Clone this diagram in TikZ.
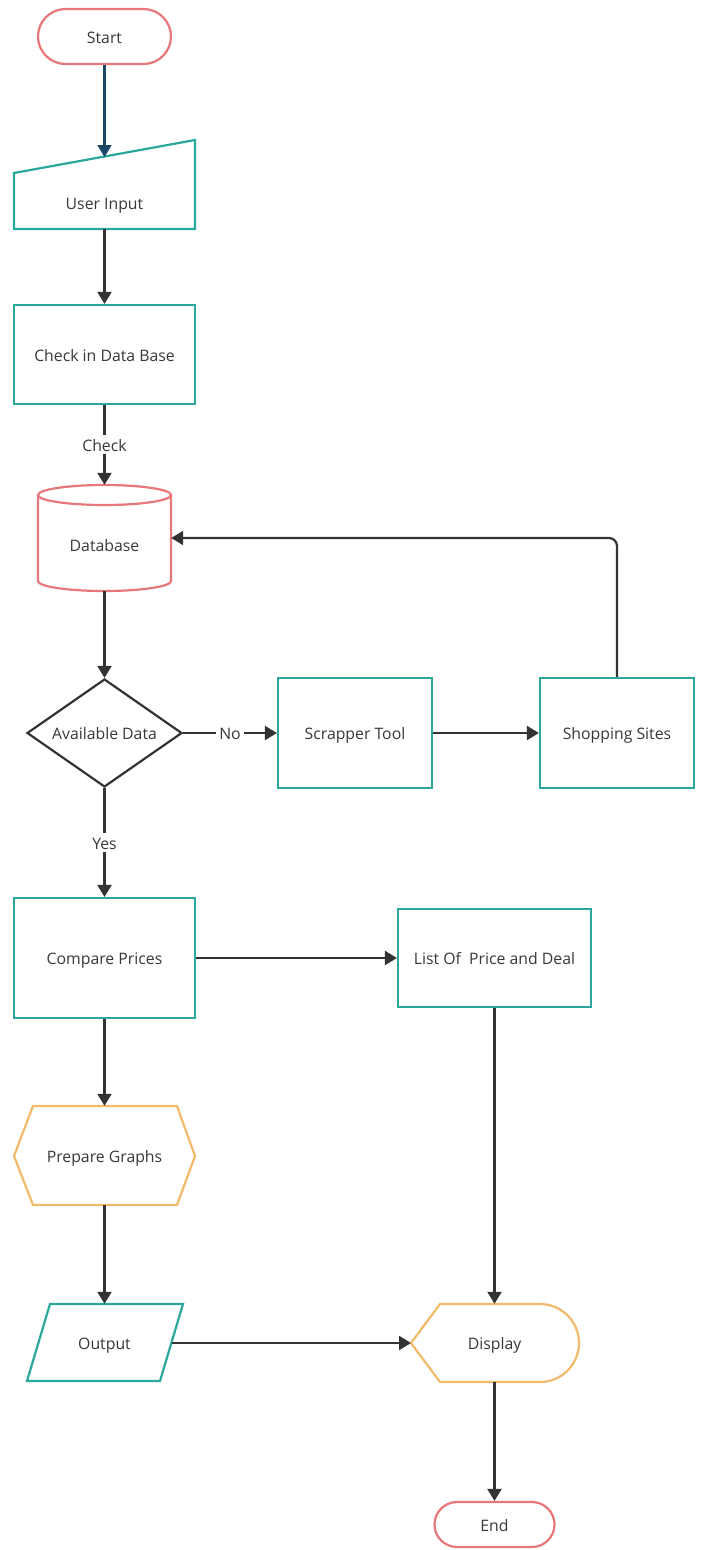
\documentclass[tikz,border=0pt]{standalone}
\usepackage{fontspec}
\setmainfont{Open Sans}
\usetikzlibrary{arrows.meta,shapes.geometric}
\definecolor{cteal}{HTML}{2AA89C}
\definecolor{cred}{HTML}{E8777A}
\definecolor{corange}{HTML}{F2BA6A}
\definecolor{cnavy}{HTML}{1C4766}
\definecolor{cline}{HTML}{333333}
\definecolor{ctext}{HTML}{383838}
\begin{document}
\begin{tikzpicture}[x=1pt,y=-1pt,
  txt/.style={font=\fontsize{15.8}{18}\selectfont, text=ctext, inner sep=0pt, text height=13pt, text depth=0pt},
  box/.style={txt, draw=cteal, line width=2.2pt, fill=white, rectangle},
  ghost/.style={txt, draw=none, rectangle},
  term/.style={txt, draw=cred, line width=2.2pt, fill=white, rectangle},
  shp/.style={line width=2.2pt, fill=white},
  arr/.style={draw=cline, line width=2.2pt, -{Triangle[length=12pt,width=14pt]}},
  lab/.style={txt, fill=white, inner sep=3pt}]
\useasboundingbox[fill=white] (0,0) rectangle (701,1550);

% Start
\node[term, rounded corners=27.5pt, minimum width=133pt, minimum height=55pt] (start) at (104.5,36.5) {Start};

% User Input (manual input)
\draw[shp, draw=cteal] (14,173) -- (195,140) -- (195,229) -- (14,229) -- cycle;
\node[ghost] (ui) at (104.5,203) {User Input};
\coordinate (uitop) at (104.5,157);
\coordinate (uibot) at (104.5,229);

% Check in Data Base
\node[box, minimum width=181pt, minimum height=99pt] (check) at (104.5,354.5) {Check in Data Base};

% Database cylinder
\draw[shp, draw=cred] (38,495) -- (38,581) arc[start angle=180, end angle=360, x radius=66.5pt, y radius=10pt] -- (171,495);
\draw[shp, draw=cred] (104.5,495) ellipse [x radius=66.5pt, y radius=10pt];
\node[ghost, minimum width=133pt, minimum height=106pt] (db) at (104.5,538) {};
\node[ghost] (dbt) at (104.5,545) {Database};

% Decision
\node[txt, diamond, aspect=1.45, draw=cline, line width=2.2pt, fill=white, minimum width=155pt, minimum height=108pt] (dia) at (104.5,733) {Available Data};

% Scrapper & Shopping
\node[box, minimum width=154pt, minimum height=110pt] (scrap) at (355,733) {Scrapper Tool};
\node[box, minimum width=154pt, minimum height=110pt] (shop) at (617,733) {Shopping Sites};

% Compare & List
\node[box, minimum width=181pt, minimum height=120pt] (cmp) at (104.5,958) {Compare Prices};
\node[box, minimum width=193pt, minimum height=98pt] (list) at (494.5,958) {List Of~ Price and Deal};

% Prepare Graphs (hexagon)
\draw[shp, draw=corange] (14,1156) -- (33,1106) -- (177,1106) -- (195,1156) -- (177,1205) -- (33,1205) -- cycle;
\node[ghost, minimum width=181pt, minimum height=99pt] (prep) at (104.5,1155.5) {Prepare Graphs};

% Output (parallelogram)
\draw[shp, draw=cteal] (50,1304) -- (183,1304) -- (160,1381) -- (27,1381) -- cycle;
\node[ghost, minimum width=133pt, minimum height=77pt] (out) at (104.5,1342.5) {Output};
\coordinate (outright) at (171.5,1343);

% Display
\draw[shp, draw=corange] (411,1343) -- (440,1304) -- (540,1304) arc[start angle=90, end angle=-90, x radius=39pt, y radius=39pt] -- (440,1382) -- cycle;
\node[ghost, minimum width=168pt, minimum height=78pt] (disp) at (494.5,1343) {Display};
\coordinate (displeft) at (411,1343);

% End
\node[term, rounded corners=22.5pt, minimum width=120pt, minimum height=45pt] (end) at (494.5,1524.5) {End};

% Connectors
\draw[arr, draw=cnavy] (start) -- (uitop);
\draw[arr] (uibot) -- (check);
\draw[arr] (check) -- node[lab] {Check} (db);
\draw[arr] (db) -- (dia);
\draw[arr] (dia) -- node[lab] {No} (scrap);
\draw[arr] (scrap) -- (shop);
\draw[arr, rounded corners=8pt] (shop.north) |- (db.east);
\draw[arr] (dia) -- node[lab] {Yes} (cmp);
\draw[arr] (cmp) -- (list);
\draw[arr] (cmp) -- (prep.north);
\draw[arr] (prep.south) -- (out.north);
\draw[arr] (outright) -- (displeft);
\draw[arr] (list) -- (disp.north);
\draw[arr] (disp.south) -- (end);
\end{tikzpicture}
\end{document}
